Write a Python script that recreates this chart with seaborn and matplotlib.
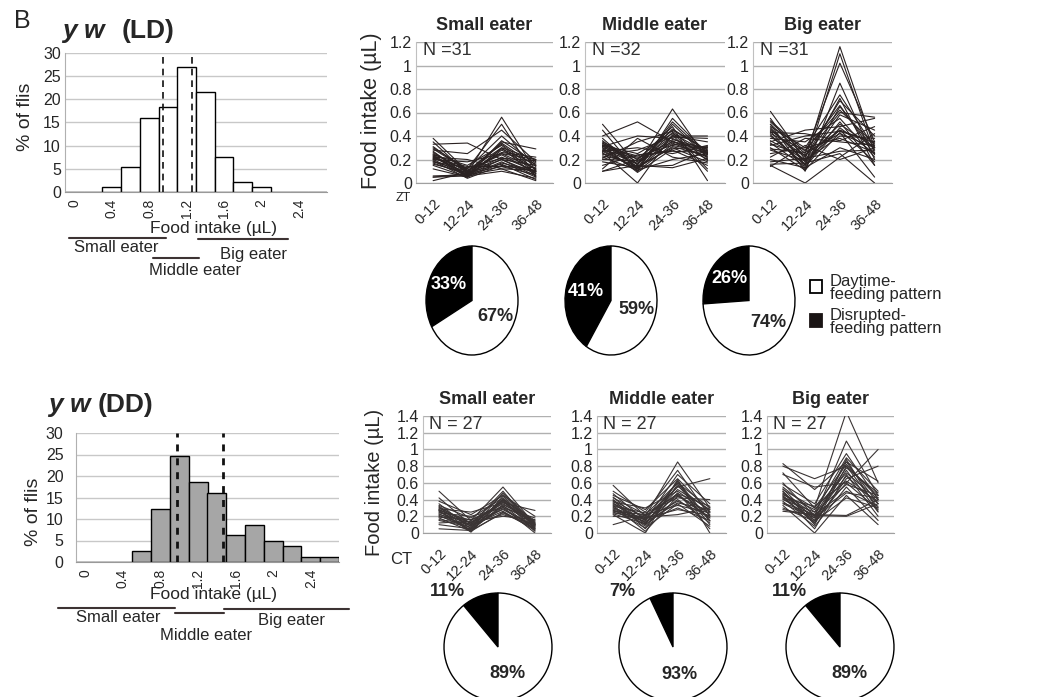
import numpy as np
import pandas as pd
import seaborn as sns
import matplotlib.pyplot as plt
from matplotlib.lines import Line2D
from matplotlib.patches import Rectangle

sns.set_style("white")
plt.rcParams['font.family'] = ['Liberation Sans', 'DejaVu Sans']
narrow = ['Liberation Sans Narrow', 'Liberation Sans', 'DejaVu Sans']

# ---- histogram data: % of flies per 0.2 uL bin (bin centre values) ----
ld_bins = [0.4, 0.6, 0.8, 1.0, 1.2, 1.4, 1.6, 1.8, 2.0]
ld_pct = [1.0, 5.3, 16.0, 18.3, 27.0, 21.6, 7.5, 2.2, 1.0]
ld_cuts = [0.95, 1.26]
dd_bins = [0.6, 0.8, 1.0, 1.2, 1.4, 1.6, 1.8, 2.0, 2.2, 2.4, 2.6]
dd_pct = [2.5, 12.3, 24.7, 18.5, 16.0, 6.2, 8.6, 4.9, 3.7, 1.2, 1.2]
dd_cuts = [0.97, 1.47]
hist_ticks = [0, 0.4, 0.8, 1.2, 1.6, 2, 2.4]

groups = ['Small eater', 'Middle eater', 'Big eater']
time_bins = ['0-12', '12-24', '24-36', '36-48']
ld_n = [31, 32, 31]
dd_n = [27, 27, 27]

# ---- pie data: disrupted / daytime feeding (%) ----
ld_disrupted = [33, 41, 26]
ld_daytime = [67, 59, 74]
dd_disrupted = [11, 7, 11]
dd_daytime = [89, 93, 89]

# ---- per-fly food intake (uL) in 12 h bins ----
ld_small = [
    [0.38, 0.10, 0.25, 0.12], [0.35, 0.08, 0.56, 0.10], [0.33, 0.34, 0.20, 0.15],
    [0.30, 0.12, 0.50, 0.05], [0.28, 0.25, 0.45, 0.18], [0.27, 0.06, 0.35, 0.29],
    [0.25, 0.10, 0.30, 0.20], [0.24, 0.15, 0.32, 0.08], [0.23, 0.05, 0.28, 0.12],
    [0.22, 0.08, 0.22, 0.10], [0.21, 0.12, 0.40, 0.15], [0.20, 0.06, 0.18, 0.05],
    [0.20, 0.18, 0.25, 0.20], [0.19, 0.04, 0.15, 0.10], [0.18, 0.10, 0.34, 0.14],
    [0.17, 0.07, 0.20, 0.08], [0.16, 0.09, 0.26, 0.22], [0.15, 0.05, 0.30, 0.06],
    [0.22, 0.20, 0.12, 0.11], [0.26, 0.09, 0.16, 0.03], [0.24, 0.06, 0.36, 0.17],
    [0.29, 0.11, 0.24, 0.09], [0.21, 0.14, 0.14, 0.13], [0.05, 0.06, 0.10, 0.04],
    [0.05, 0.08, 0.14, 0.07], [0.06, 0.07, 0.12, 0.02], [0.02, 0.09, 0.20, 0.06],
    [0.12, 0.05, 0.17, 0.10], [0.18, 0.13, 0.21, 0.19], [0.23, 0.07, 0.29, 0.16],
    [0.31, 0.10, 0.33, 0.11],
]
ld_middle = [
    [0.50, 0.15, 0.63, 0.20], [0.45, 0.10, 0.55, 0.25], [0.40, 0.52, 0.35, 0.30],
    [0.38, 0.12, 0.50, 0.22], [0.35, 0.20, 0.45, 0.28], [0.34, 0.18, 0.40, 0.35],
    [0.33, 0.14, 0.30, 0.18], [0.32, 0.25, 0.42, 0.26], [0.31, 0.40, 0.38, 0.24],
    [0.30, 0.10, 0.33, 0.30], [0.30, 0.22, 0.28, 0.15], [0.29, 0.16, 0.46, 0.27],
    [0.28, 0.12, 0.36, 0.20], [0.27, 0.30, 0.25, 0.32], [0.26, 0.00, 0.41, 0.10],
    [0.25, 0.14, 0.15, 0.28], [0.24, 0.28, 0.39, 0.38], [0.23, 0.17, 0.34, 0.22],
    [0.22, 0.11, 0.20, 0.25], [0.21, 0.35, 0.44, 0.19], [0.20, 0.19, 0.37, 0.29],
    [0.18, 0.13, 0.31, 0.23], [0.15, 0.24, 0.27, 0.26], [0.12, 0.38, 0.22, 0.17],
    [0.10, 0.15, 0.13, 0.21], [0.10, 0.20, 0.48, 0.02], [0.36, 0.13, 0.52, 0.24],
    [0.32, 0.09, 0.29, 0.31], [0.28, 0.21, 0.35, 0.27], [0.34, 0.16, 0.43, 0.12],
    [0.27, 0.12, 0.40, 0.40], [0.31, 0.23, 0.32, 0.26],
]
ld_big = [
    [0.61, 0.20, 1.16, 0.30], [0.55, 0.15, 1.10, 0.25], [0.52, 0.25, 1.02, 0.35],
    [0.50, 0.10, 0.85, 0.20], [0.48, 0.30, 0.75, 0.30], [0.47, 0.18, 0.72, 0.15],
    [0.45, 0.22, 0.70, 0.40], [0.44, 0.12, 0.65, 0.28], [0.42, 0.28, 0.62, 0.33],
    [0.40, 0.16, 0.58, 0.45], [0.38, 0.35, 0.55, 0.22], [0.36, 0.20, 0.50, 0.30],
    [0.35, 0.45, 0.48, 0.55], [0.34, 0.14, 0.47, 0.25], [0.33, 0.24, 0.45, 0.18],
    [0.32, 0.40, 0.44, 0.35], [0.30, 0.11, 0.43, 0.05], [0.29, 0.26, 0.42, 0.30],
    [0.28, 0.19, 0.40, 0.38], [0.25, 0.30, 0.38, 0.26], [0.22, 0.38, 0.35, 0.32],
    [0.20, 0.13, 0.30, 0.20], [0.18, 0.21, 0.27, 0.28], [0.16, 0.17, 0.25, 0.00],
    [0.15, 0.00, 0.22, 0.42], [0.14, 0.32, 0.20, 0.30], [0.50, 0.23, 0.60, 0.56],
    [0.53, 0.27, 0.66, 0.24], [0.46, 0.19, 0.45, 0.34], [0.41, 0.15, 0.52, 0.15],
    [0.43, 0.42, 0.36, 0.48],
]
dd_small = [
    [0.50, 0.15, 0.55, 0.10], [0.42, 0.10, 0.50, 0.05], [0.38, 0.22, 0.45, 0.20],
    [0.35, 0.05, 0.48, 0.12], [0.33, 0.18, 0.42, 0.08], [0.31, 0.02, 0.40, 0.15],
    [0.30, 0.12, 0.38, 0.06], [0.29, 0.25, 0.36, 0.27], [0.28, 0.08, 0.41, 0.10],
    [0.27, 0.15, 0.35, 0.13], [0.26, 0.03, 0.33, 0.04], [0.25, 0.10, 0.39, 0.09],
    [0.24, 0.20, 0.30, 0.18], [0.23, 0.06, 0.37, 0.11], [0.22, 0.13, 0.28, 0.07],
    [0.21, 0.04, 0.34, 0.14], [0.20, 0.09, 0.26, 0.03], [0.19, 0.16, 0.32, 0.12],
    [0.18, 0.02, 0.25, 0.06], [0.16, 0.11, 0.22, 0.10], [0.15, 0.07, 0.29, 0.08],
    [0.12, 0.14, 0.20, 0.16], [0.10, 0.05, 0.31, 0.00], [0.05, 0.03, 0.24, 0.05],
    [0.27, 0.01, 0.44, 0.09], [0.32, 0.08, 0.40, 0.02], [0.28, 0.12, 0.46, 0.11],
]
dd_middle = [
    [0.57, 0.20, 0.85, 0.30], [0.50, 0.25, 0.75, 0.20], [0.47, 0.15, 0.70, 0.35],
    [0.45, 0.28, 0.65, 0.25], [0.43, 0.10, 0.62, 0.15], [0.42, 0.22, 0.60, 0.30],
    [0.40, 0.05, 0.58, 0.10], [0.39, 0.18, 0.55, 0.65], [0.38, 0.12, 0.52, 0.28],
    [0.37, 0.30, 0.50, 0.22], [0.36, 0.08, 0.48, 0.05], [0.35, 0.20, 0.47, 0.32],
    [0.34, 0.15, 0.45, 0.18], [0.33, 0.02, 0.44, 0.25], [0.32, 0.24, 0.42, 0.40],
    [0.31, 0.10, 0.40, 0.12], [0.30, 0.17, 0.38, 0.20], [0.29, 0.13, 0.36, 0.28],
    [0.28, 0.06, 0.35, 0.08], [0.26, 0.22, 0.33, 0.24], [0.25, 0.14, 0.30, 0.15],
    [0.24, 0.19, 0.22, 0.30], [0.22, 0.00, 0.64, 0.00], [0.20, 0.18, 0.28, 0.21],
    [0.10, 0.21, 0.46, 0.18], [0.23, 0.11, 0.56, 0.26], [0.27, 0.16, 0.60, 0.14],
]
dd_big = [
    [0.83, 0.52, 0.85, 0.62], [0.80, 0.65, 0.80, 0.45], [0.72, 0.30, 1.45, 0.60],
    [0.70, 0.55, 0.60, 1.00], [0.60, 0.20, 1.10, 0.45], [0.58, 0.35, 0.95, 0.40],
    [0.55, 0.25, 0.90, 0.50], [0.53, 0.15, 0.85, 0.35], [0.52, 0.30, 0.82, 0.42],
    [0.50, 0.10, 0.80, 0.30], [0.48, 0.22, 0.78, 0.48], [0.47, 0.18, 0.75, 0.25],
    [0.46, 0.28, 0.72, 0.40], [0.45, 0.05, 0.70, 0.20], [0.44, 0.20, 0.68, 0.35],
    [0.43, 0.12, 0.65, 0.80], [0.42, 0.32, 0.62, 0.38], [0.41, 0.15, 0.60, 0.28],
    [0.40, 0.25, 0.58, 0.45], [0.38, 0.08, 0.55, 0.15], [0.36, 0.22, 0.50, 0.32],
    [0.35, 0.18, 0.48, 0.42], [0.33, 0.00, 0.45, 0.10], [0.30, 0.14, 0.42, 0.30],
    [0.28, 0.21, 0.20, 0.35], [0.26, 0.22, 0.21, 0.40], [0.50, 0.12, 0.88, 0.26],
]

W, H = 1040, 697
fig = plt.figure(figsize=(W / 100, H / 100), dpi=100)


def fx(x):
    return x / W


def fy(y):
    return 1 - y / H


def rect(l, t, r, b):
    return [l / W, 1 - b / H, (r - l) / W, (b - t) / H]


hist_lo, hist_hi = -0.1, 2.7
hist_edges = np.linspace(hist_lo, hist_hi, 15)


def draw_hist(box, centers, pct, cuts, face, cut_lw, cut_dash, ypad):
    ax = fig.add_axes(rect(*box))
    hd = pd.DataFrame({'intake': centers, 'pct': pct})
    sns.histplot(data=hd, x='intake', weights='pct', binwidth=0.2, binrange=(hist_lo, hist_hi),
                 color=face, edgecolor='black', linewidth=1.0, alpha=1, ax=ax)
    for c in cuts:
        ax.axvline(c, color='#111111', lw=cut_lw, ls=(0, cut_dash), zorder=5)
    ax.set_xlim(hist_lo, hist_hi)
    ax.set_ylim(0, 30)
    ax.set_yticks(range(0, 31, 5))
    ax.set_xticks(hist_ticks)
    ax.set_xticklabels([f'{v:g}' for v in hist_ticks], rotation=90, fontsize=10)
    ax.set_xticks(hist_edges, minor=True)
    ax.tick_params(axis='x', which='major', length=0, pad=5)
    ax.tick_params(axis='x', which='minor', length=4, color='#999999')
    ax.tick_params(axis='y', length=0, labelsize=11.5, pad=ypad)
    ax.grid(axis='y', color='#c8c8c8', lw=1)
    ax.set_axisbelow(True)
    ax.set_xlabel('')
    ax.set_ylabel('')
    for s in ['top', 'right']:
        ax.spines[s].set_visible(False)
    ax.spines['left'].set_color('#b0b0b0')
    ax.spines['bottom'].set_color('#999999')
    return ax


def draw_lines(box, traces, title, ntext, ymax, lcolor):
    ax = fig.add_axes(rect(*box))
    df = pd.DataFrame(traces, columns=time_bins)
    df['fly'] = np.arange(len(df))
    long = df.melt(id_vars='fly', var_name='time', value_name='intake')
    long['pos'] = long['time'].map({t: i for i, t in enumerate(time_bins)})
    sns.lineplot(data=long, x='pos', y='intake', units='fly', estimator=None,
                 color=lcolor, lw=0.8, ax=ax, legend=False)
    ax.set_xlim(-0.5, 3.5)
    ax.set_ylim(0, ymax)
    yt = np.round(np.arange(0, ymax + 0.01, 0.2), 1)
    ax.set_yticks(yt)
    ax.set_yticklabels([f'{v:g}' for v in yt])
    ax.set_xticks(range(4))
    ax.set_xticklabels(time_bins, rotation=45, ha='right', rotation_mode='anchor', fontsize=10.5)
    ax.set_xticks([-0.5, 0.5, 1.5, 2.5, 3.5], minor=True)
    ax.tick_params(axis='x', which='major', length=8, width=1.6, color='black', pad=2)
    ax.tick_params(axis='x', which='minor', length=4, color='#aaaaaa')
    ax.tick_params(axis='y', length=0, labelsize=11.5, pad=3)
    ax.grid(axis='y', color='#b0b0b0', lw=1)
    ax.set_axisbelow(True)
    ax.set_xlabel('')
    ax.set_ylabel('')
    for s in ['top', 'right']:
        ax.spines[s].set_visible(False)
    ax.spines['left'].set_color('#c0c0c0')
    ax.spines['bottom'].set_color('#a0a0a0')
    ax.set_title(title, fontsize=13, fontweight='bold', pad=9)
    ax.text(0.05, 1.0, ntext, transform=ax.transAxes, ha='left', va='top',
            fontsize=13, color='#333333')
    return ax


def draw_pie(box, dis, day, inside):
    ax = fig.add_axes(rect(*box))
    wedges, texts, autotexts = ax.pie(
        [dis, day], colors=['black', 'white'], startangle=90, counterclock=True,
        wedgeprops=dict(edgecolor='black', linewidth=1),
        autopct=lambda p: f'{p:.0f}%', pctdistance=0.58 if inside else 0.52,
        textprops=dict(fontsize=13, fontweight='bold', family=narrow))
    ax.set_xlim(-1, 1)
    ax.set_ylim(-1, 1)
    ax.set_aspect('auto')
    for w in wedges:
        w.set_clip_on(False)
    if inside:
        autotexts[0].set_color('white')
    else:
        autotexts[0].set_position((-0.93, 1.02))
    return ax


# ---- panel letter and titles ----
fig.text(fx(14), fy(21), 'B', fontsize=18, ha='left', va='center')
fig.text(fx(62), fy(31), 'y w', fontsize=19, fontweight='bold', fontstyle='italic', ha='left', va='center')
fig.text(fx(122), fy(31), '(LD)', fontsize=19, fontweight='bold', ha='left', va='center')
fig.text(fx(48), fy(405), 'y w', fontsize=19, fontweight='bold', fontstyle='italic', ha='left', va='center')
fig.text(fx(98), fy(405), '(DD)', fontsize=19, fontweight='bold', ha='left', va='center')

# ---- histograms ----
draw_hist((65, 53, 327, 192), ld_bins, ld_pct, ld_cuts, 'white', 1.2, (4, 3), 3)
draw_hist((76, 433, 339, 562), dd_bins, dd_pct, dd_cuts, '#a6a6a6', 2.0, (2.5, 2.5), 9)

fig.text(fx(25), fy(117), '% of flis', fontsize=14, rotation=90, ha='center', va='center')
fig.text(fx(34), fy(512), '% of flis', fontsize=14, rotation=90, ha='center', va='center')
fig.text(fx(214), fy(228), 'Food intake (µL)', fontsize=12.5, ha='center', va='center')
fig.text(fx(214), fy(594), 'Food intake (µL)', fontsize=12.5, ha='center', va='center')

bracket_col = '#3d3333'
for (x1, x2, y) in [(69, 166, 238), (153, 199, 258), (198, 288, 239),
                    (58, 175, 608), (175, 224, 613), (224, 349, 609)]:
    fig.add_artist(Line2D([fx(x1), fx(x2)], [fy(y), fy(y)], color=bracket_col, lw=1.5))
for (s, x, y) in [('Small eater', 116, 248), ('Middle eater', 195, 270), ('Big eater', 254, 254),
                  ('Small eater', 118, 617), ('Middle eater', 206, 636), ('Big eater', 291, 621)]:
    fig.text(fx(x), fy(y), s, fontsize=12, ha='center', va='center')

# ---- line panels ----
ld_boxes = [(416, 42, 553, 183), (585, 42, 725, 183), (753, 42, 892, 183)]
dd_boxes = [(423, 416, 551, 533), (597, 416, 726, 533), (767, 416, 894, 533)]
for box, tr, g, n in zip(ld_boxes, [ld_small, ld_middle, ld_big], groups, ld_n):
    draw_lines(box, tr, g, f'N ={n}', 1.2, '#2a2222')
for box, tr, g, n in zip(dd_boxes, [dd_small, dd_middle, dd_big], groups, dd_n):
    draw_lines(box, tr, g, f'N = {n}', 1.4, '#3a3434')

fig.text(fx(372), fy(111), 'Food intake (µL)', fontsize=15.5, rotation=90, ha='center', va='center')
fig.text(fx(375), fy(482), 'Food intake (µL)', fontsize=14.5, rotation=90, ha='center', va='center')
fig.text(fx(403), fy(198), 'ZT', fontsize=9, ha='center', va='center')
fig.text(fx(401), fy(560), 'CT', fontsize=12, ha='center', va='center')

# ---- pies ----
for cx, dis, day in zip([472, 611, 749], ld_disrupted, ld_daytime):
    draw_pie((cx - 46, 246, cx + 46, 355), dis, day, True)
for cx, dis, day in zip([498, 673, 840], dd_disrupted, dd_daytime):
    draw_pie((cx - 54, 593, cx + 54, 701), dis, day, False)

# ---- legend ----
fig.add_artist(Rectangle((fx(810), fy(293)), 12 / W, 13 / H, transform=fig.transFigure,
                         facecolor='white', edgecolor='black', lw=1.3))
fig.add_artist(Rectangle((fx(810), fy(327)), 12 / W, 13 / H, transform=fig.transFigure,
                         facecolor='#1a1414', edgecolor='#1a1414', lw=1.3))
fig.text(fx(830), fy(288), 'Daytime-\nfeeding pattern', fontsize=12, family=narrow,
         ha='left', va='center', linespacing=0.85)
fig.text(fx(830), fy(322), 'Disrupted-\nfeeding pattern', fontsize=12, family=narrow,
         ha='left', va='center', linespacing=0.85)

fig.savefig('out.png', dpi=100)
